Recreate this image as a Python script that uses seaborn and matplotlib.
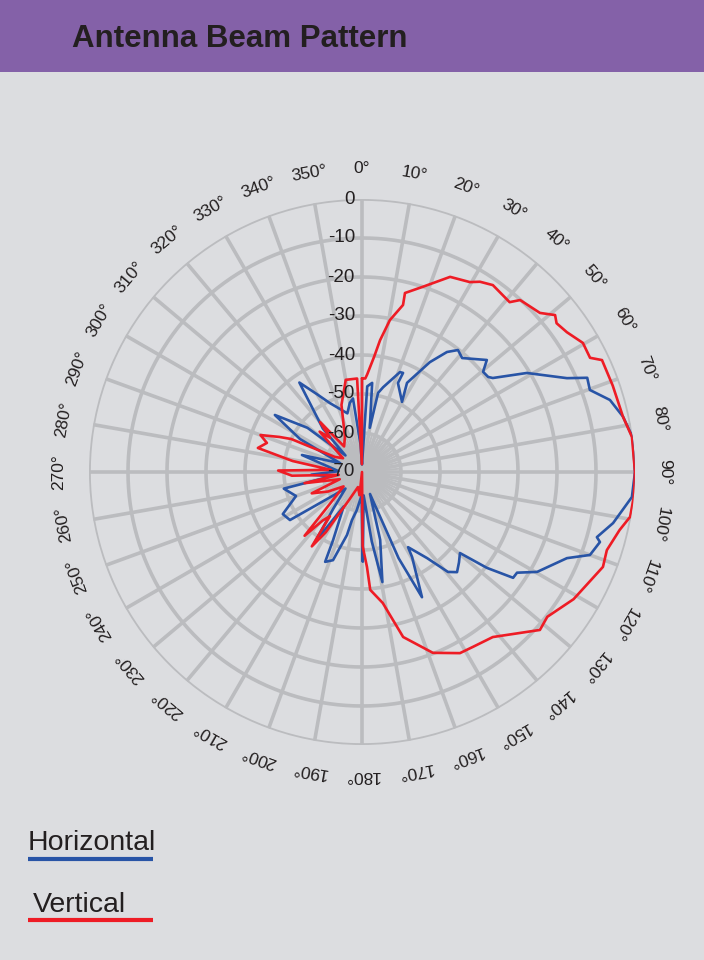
import numpy as np
import pandas as pd
import seaborn as sns
import matplotlib.pyplot as plt
from matplotlib.lines import Line2D
from matplotlib.patches import Rectangle
from matplotlib.transforms import offset_copy

# Horizontal pattern (blue): angle in degrees, level in dB
h_deg = [0, 2, 3.5, 6.5, 10, 11.5, 14, 20.8, 22.5, 22, 29.7, 26.8, 31.7, 35.3, 38.2,
         41.3, 48.1, 50.4, 53, 54.3, 59, 65.4, 67.3, 70.2, 73.8, 78, 82.8, 90, 95.3,
         101.5, 105.5, 106.4, 110, 112.8, 119.7, 123, 125, 127.5, 129.6, 133, 136.5,
         139.3, 142.9, 148.5, 149.5, 154.4, 157, 160, 165, 169.5, 172, 176, 179.5,
         181, 188, 191.8, 193.4, 198.2, 202.3, 203, 208, 213.9, 218, 225, 236.3, 242,
         250, 258, 262, 267, 272, 285.8, 292, 298, 303.2, 309, 315, 318, 325, 330,
         335, 346, 350, 353, 357, 360]
h_db = [-68, -66, -48, -47, -58.5, -49.3, -47.6, -42.6, -42.5, -45.4, -49.3, -44.4,
        -36.9, -32.3, -30.2, -31.1, -27, -29.7, -29.5, -28.7, -20.7, -12.2, -7.4, -7.9,
        -3.8, -1.6, 0, 0, -0.5, -4.3, -7.5, -6.4, -7.8, -13, -18.3, -22.6, -22.7, -29.6,
        -37.4, -36, -34.6, -36.2, -42.3, -47.4, -44.7, -34.4, -46, -64, -52, -41.3, -52,
        -64, -47, -64, -60, -57.4, -53.4, -46.2, -45.1, -51, -60, -48.4, -58, -64, -47.8,
        -47, -52, -49.5, -62, -57, -64, -54, -64, -52, -43.3, -52, -64, -55, -42, -47,
        -50.5, -54.5, -52, -51, -63, -68]

# Vertical pattern (red)
v_deg = [0, 2, 3, 6, 7.8, 10.4, 13.8, 13.5, 18.2, 24.3, 29.6, 31.8, 35, 41, 42.6,
         48.2, 50.9, 52.6, 55.7, 59.7, 63.4, 65, 71, 78, 82.6, 90, 95.2, 99.5, 102.7,
         107.7, 111.5, 121, 128, 131.6, 141.6, 147.6, 151.6, 158.6, 166, 171, 176, 177,
         179.5, 180.5, 186, 195, 205, 211, 214, 216, 219, 222, 225, 232, 240, 247, 252,
         259, 263, 267, 271, 274, 279, 283, 287, 290, 293, 295, 299, 306, 313.6, 317,
         320, 325, 334, 343, 350, 357, 359, 360]
v_db = [-46, -46, -45, -40.3, -35.9, -30.4, -25.9, -22.8, -20, -15.1, -14, -12.6, -11.5,
        -12.3, -10.1, -8.8, -6.2, -7.2, -6.4, -4.4, -4.6, -2.1, -2, -1.6, -0.2, 0, 0,
        -0.3, -2.3, -4.1, -3.6, -6.7, -9.7, -9, -16, -16.9, -17.2, -20.2, -26.4, -36,
        -39.7, -45.6, -51, -70, -64, -66, -62, -52, -47, -56, -54, -48, -58, -64, -60,
        -56, -64, -55, -64, -52, -48.5, -62, -52, -42.6, -44.5, -42.3, -47, -50, -62,
        -64, -55, -58, -53.3, -62, -60, -52, -46, -46, -68, -46]

ring_db = [0, -10, -20, -30, -40, -50, -60, -70]
angle_labels = list(range(0, 360, 10))

bg = '#dcdde0'
grid_c = '#bbbcbf'
blue = '#2854a6'
red = '#ee1c25'
ink = '#231f20'

sns.set_theme(style='white')
plt.rcParams['font.family'] = ['Liberation Sans', 'DejaVu Sans']

fig = plt.figure(figsize=(7.04, 9.6), dpi=100, facecolor=bg)
fig.patches.append(Rectangle((0, 1 - 72 / 960), 1, 72 / 960, transform=fig.transFigure,
                             facecolor='#8461a8', edgecolor='none'))
fig.text(72 / 704, 1 - 47 / 960, 'Antenna Beam Pattern', ha='left', va='baseline',
         fontsize=22.5, fontweight='bold', color=ink)

ax = fig.add_axes([89 / 704, 1 - 745 / 960, 546 / 704, 546 / 960], projection='polar')
ax.set_facecolor('none')
ax.set_theta_zero_location('N')
ax.set_theta_direction(-1)

# grid: rings, 10 degree spokes and the dense inner spokes
tt = np.linspace(0, 2 * np.pi, 361)
for r in range(10, 71, 10):
    ax.plot(tt, np.full_like(tt, r), color=grid_c, lw=2.6, zorder=1)
for a in range(0, 360, 10):
    ax.plot([np.deg2rad(a)] * 2, [0, 70], color=grid_c, lw=2.6, zorder=1,
            solid_capstyle='butt')
for a in range(5, 360, 10):
    ax.plot([np.deg2rad(a)] * 2, [0, 10], color=grid_c, lw=1.4, zorder=1,
            solid_capstyle='butt')

df_h = pd.DataFrame({'theta': np.deg2rad(h_deg), 'r': np.array(h_db) + 70})
df_v = pd.DataFrame({'theta': np.deg2rad(v_deg), 'r': np.array(v_db) + 70})
sns.lineplot(data=df_h, x='theta', y='r', sort=False, estimator=None, color=blue,
             lw=1.9, ax=ax, zorder=3)
sns.lineplot(data=df_v, x='theta', y='r', sort=False, estimator=None, color=red,
             lw=1.9, ax=ax, zorder=4)

ax.set_xlabel('')
ax.set_ylabel('')
ax.set_xticks([])
ax.set_yticks([])
ax.grid(False)
ax.spines['polar'].set_visible(False)
ax.set_ylim(0, 70)

for a in angle_labels:
    ax.text(np.deg2rad(a), 77.7, f'{a}°', rotation=-a, rotation_mode='anchor',
            ha='center', va='center', fontsize=12.5, color=ink, clip_on=False)

lab_tr = offset_copy(ax.transData, fig=fig, x=-7, y=0, units='dots')
for d in ring_db:
    ax.text(0, d + 70, f'{d}', transform=lab_tr, ha='right', va='center',
            fontsize=13.5, color=ink, zorder=6)

# legend
fig.text(28 / 704, 1 - 850 / 960, 'Horizontal', ha='left', va='baseline', fontsize=20.5,
         color=ink)
fig.text(33 / 704, 1 - 912 / 960, 'Vertical', ha='left', va='baseline', fontsize=20.5,
         color=ink)
fig.add_artist(Line2D([28 / 704, 153 / 704], [1 - 859 / 960] * 2, color=blue, lw=3,
                      solid_capstyle='butt', transform=fig.transFigure))
fig.add_artist(Line2D([28 / 704, 153 / 704], [1 - 920 / 960] * 2, color=red, lw=3,
                      solid_capstyle='butt', transform=fig.transFigure))

fig.savefig('out.png', dpi=100, facecolor=bg)
